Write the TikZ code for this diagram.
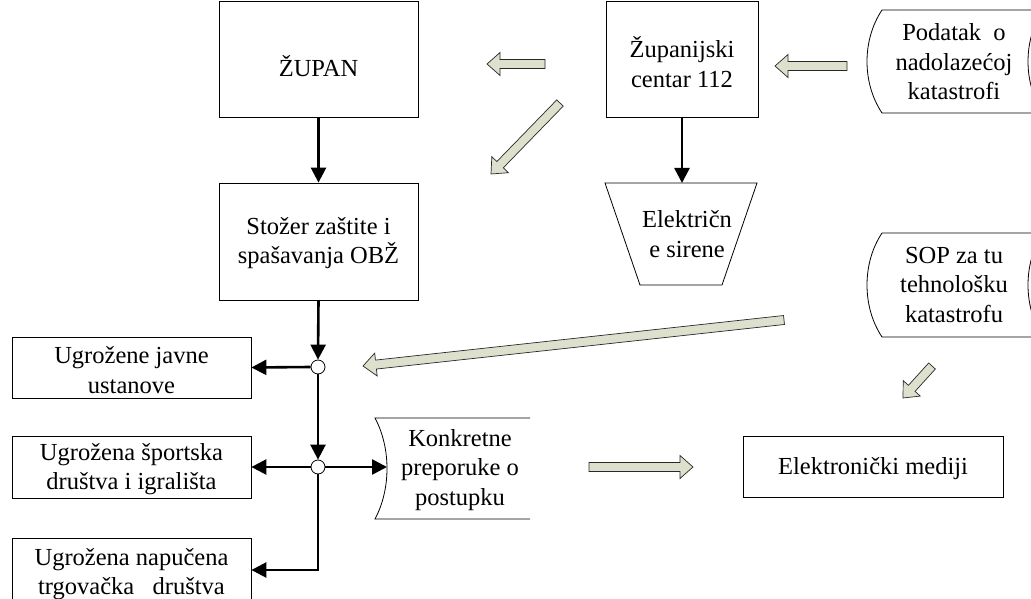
\documentclass[tikz,border=0pt]{standalone}
\usepackage{fontspec}
\setmainfont{Liberation Serif}
\usetikzlibrary{arrows.meta,calc}
\definecolor{blockfill}{RGB}{221,224,204}
\definecolor{blockline}{RGB}{40,40,40}
\tikzset{
  box/.style={draw=black, line width=0.8pt, rectangle, align=center, inner sep=0pt},
  txt/.style={align=center, inner sep=0pt, font=\fontsize{24.5}{29.5}\selectfont},
  outline/.style={draw=black, line width=0.8pt},
  flow/.style={line width=2.6pt, -{Triangle[length=15pt,width=15pt]}},
  junction/.style={circle, draw=black, fill=white, line width=0.8pt, minimum size=14pt, inner sep=0pt},
  blockarr/.style={draw=blockline, fill=blockfill, line width=0.7pt, line join=miter},
}
% hollow block arrow from #1 (tail) to #2 (tip)
\newcommand{\blkarrow}[2]{%
  \path[blockarr] let \p1=(#1), \p2=(#2),
      \n1={atan2(\y2-\y1,\x2-\x1)}, \n2={veclen(\x2-\x1,\y2-\y1)} in
    [shift={(\p1)}, rotate=\n1]
    (0pt,-4.5pt) -- (\n2-13pt,-4.5pt) -- (\n2-13pt,-11.5pt) -- (\n2,0pt)
    -- (\n2-13pt,11.5pt) -- (\n2-13pt,4.5pt) -- (0pt,4.5pt) -- cycle;}
\begin{document}
\begin{tikzpicture}[x=1pt,y=-1pt]
\path[use as bounding box, clip] (0,0) rectangle (1031,599);
\fill[white] (0,0) rectangle (1031,599);

% top row
\node[box, minimum width=199pt, minimum height=116pt] (zupan) at (318.5,59) {};
\node[txt] (zupant) at (318.5,66) {ŽUPAN};
\node[box, minimum width=152pt, minimum height=116pt] (centar) at (682,59) {};
\node[txt] (centart) at (682,62) {Županijski\\centar 112};

% stored-data shape: incoming warning
\draw[outline] (1045,10) -- (882,10) .. controls (862,40) and (862,83) .. (882,113) -- (1045,113);
\draw[outline] (1043,10) .. controls (1023,40) and (1023,83) .. (1043,113);
\node[txt] (podatak) at (954,62) {Podatak\ \ o\\nadolazećoj\\katastrofi};

% staff box
\node[box, minimum width=199pt, minimum height=117pt] (stozer) at (318.5,241.5) {};
\node[txt] (stozert) at (318.5,243) {Stožer zaštite i\\spašavanja OBŽ};

% electric sirens (trapezoid)
\draw[outline] (605,183) -- (757,183) -- (722,285) -- (640,285) -- cycle;
\coordinate (sirenetop) at (682,183);
\node[txt] (sirene) at (687,234) {Električn\\e sirene};

% stored-data shape: SOP
\draw[outline] (1045,233) -- (882,233) .. controls (862,263) and (862,307) .. (882,337) -- (1045,337);
\draw[outline] (1043,233) .. controls (1023,263) and (1023,307) .. (1043,337);
\node[txt] (sop) at (954,285) {SOP za tu\\tehnološku\\katastrofu};

% left column of endangered groups
\node[box, minimum width=239pt, minimum height=61pt] (javne) at (131.5,367.5) {};
\node[txt] (javnet) at (131.5,370) {Ugrožene javne\\ustanove};
\node[box, minimum width=239pt, minimum height=62pt] (sport) at (131.5,467) {};
\node[txt] (sportt) at (131.5,469) {Ugrožena športska\\društva i igrališta};
\node[box, minimum width=239pt, minimum height=70pt] (trg) at (131.5,573) {};
\node[txt] (trgt) at (131.5,574) {Ugrožena napučena\\trgovačka\ \ \ društva};

% junctions
\node[junction] (j1) at (318,367) {};
\node[junction] (j2) at (318,467) {};

% concrete recommendations (open stored-data shape)
\draw[outline] (530,418) -- (375,418) .. controls (391,448) and (391,489) .. (375,519) -- (530,519);
\coordinate (kleft) at (387,467);
\node[txt] (preporuke) at (460,470) {Konkretne\\preporuke o\\postupku};

% electronic media
\node[box, minimum width=260pt, minimum height=61pt] (mediji) at (873,467) {};
\node[txt] (medijit) at (873,469) {Elektronički mediji};

% black flow connectors
\draw[flow] (zupan.south) -- (stozer.north);
\draw[flow] (centar.south) -- (sirenetop);
\draw[flow] (stozer.south) -- (j1.north);
\draw[flow] (j1.west) -- (javne.east);
\draw[flow] (j1.south) -- (j2.north);
\draw[flow] (j2.west) -- (sport.east);
\draw[flow] (j2.east) -- (kleft);
\coordinate (corner) at (318,570);
\draw[flow] (j2.south) -- (corner) -- (trg.east |- corner);

% hollow block arrows
\coordinate (a1tail) at (847,66);  \coordinate (a1tip) at (775,66);
\coordinate (a2tail) at (545,64);  \coordinate (a2tip) at (487,64);
\coordinate (a3tail) at (560,103); \coordinate (a3tip) at (491,174);
\coordinate (a4tail) at (784,320); \coordinate (a4tip) at (363,366);
\coordinate (a5tail) at (932,366); \coordinate (a5tip) at (903,398);
\coordinate (a6tail) at (589,467); \coordinate (a6tip) at (693,467);
\blkarrow{a1tail}{a1tip}
\blkarrow{a2tail}{a2tip}
\blkarrow{a3tail}{a3tip}
\blkarrow{a4tail}{a4tip}
\blkarrow{a5tail}{a5tip}
\blkarrow{a6tail}{a6tip}
\end{tikzpicture}
\end{document}
